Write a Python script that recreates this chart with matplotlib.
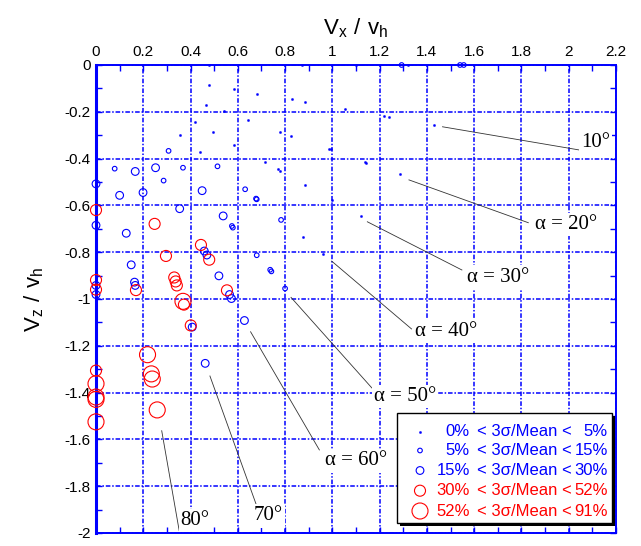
import matplotlib
matplotlib.use("Agg")
import matplotlib.pyplot as plt
from matplotlib.patches import Rectangle
from matplotlib.ticker import MultipleLocator, FuncFormatter

plt.rcParams["font.family"] = ["Liberation Sans", "DejaVu Sans"]
plt.rcParams["axes.unicode_minus"] = False

# ---- measured velocity ratios, grouped by 3-sigma/mean class ----
# class 0: 0% - 5%
dot_x = [0.476, 0.582, 0.683, 0.465, 0.542, 0.645, 0.417, 0.493, 0.356, 0.583,
         0.441, 0.713, 0.831, 0.883, 1.052, 1.220, 1.239, 1.430, 0.780, 0.827,
         0.985, 0.996, 0.769, 0.780, 1.137, 1.144, 1.285, 0.886, 0.997, 1.121,
         0.875, 0.959, 0.480, 0.870, 1.100, 1.320]
dot_y = [-0.084, -0.103, -0.122, -0.171, -0.198, -0.237, -0.242, -0.286, -0.300, -0.340,
         -0.373, -0.415, -0.147, -0.157, -0.186, -0.217, -0.221, -0.255, -0.285, -0.303,
         -0.358, -0.361, -0.445, -0.452, -0.416, -0.418, -0.467, -0.513, -0.578, -0.647,
         -0.736, -0.808, 0.0, 0.0, 0.0, 0.0]

# class 1: 5% - 15%
small_x = [0.079, 0.307, 0.368, 0.286, 0.514, 0.631, 0.677, 0.680, 0.575, 0.579,
           0.783, 0.680, 0.737, 0.742, 0.800, 1.293, 1.540, 1.556]
small_y = [-0.443, -0.367, -0.439, -0.494, -0.433, -0.531, -0.571, -0.574, -0.688, -0.695,
           -0.662, -0.813, -0.875, -0.882, -0.955, 0.0, 0.0, 0.0]

# class 2: 15% - 30%
mid_x = [0.0, 0.166, 0.252, 0.100, 0.199, 0.449, 0.354, 0.0, 0.128, 0.538,
         0.458, 0.469, 0.149, 0.163, 0.166, 0.520, 0.565, 0.573, 0.0, 0.0,
         0.407, 0.628, 0.462]
mid_y = [-0.508, -0.455, -0.439, -0.557, -0.545, -0.537, -0.614, -0.685, -0.719, -0.645,
         -0.795, -0.812, -0.854, -0.928, -0.942, -0.901, -0.981, -0.998, -0.942, -0.981,
         -1.120, -1.092, -1.275]

# class 3: 30% - 52%
red_mid_x = [0.0, 0.248, 0.444, 0.479, 0.296, 0.331, 0.337, 0.342, 0.169, 0.554,
             0.0, 0.0, 0.372, 0.401, 0.0]
red_mid_y = [-0.620, -0.679, -0.769, -0.832, -0.816, -0.908, -0.925, -0.942, -0.962, -0.963,
             -0.919, -0.960, -1.024, -1.113, -1.306]

# class 4: 52% - 91%
red_big_x = [0.368, 0.218, 0.234, 0.238, 0.259, 0.0, 0.0, 0.0, 0.0]
red_big_y = [-1.010, -1.238, -1.320, -1.342, -1.474, -1.362, -1.419, -1.429, -1.525]

class_low = ["0%", "5%", "15%", "30%", "52%"]
class_high = ["5%", "15%", "30%", "52%", "91%"]

# trajectory angle labels
angle_labels = ["10°", "α = 20°", "α = 30°", "α = 40°", "α = 50°", "α = 60°", "70°", "80°"]

# ---- figure ----
W, H = 641, 546
fig = plt.figure(figsize=(W / 100, H / 100), dpi=100)
ax_l, ax_r, ax_t, ax_b = 96, 616, 65, 533
ax = fig.add_axes([ax_l / W, (H - ax_b) / H, (ax_r - ax_l) / W, (ax_b - ax_t) / H])

ax.set_xlim(0, 2.2)
ax.set_ylim(-2, 0)

blue = "#0000ff"
red = "#ff0000"

styles = [
    dict(s=2.5, marker="o", facecolors=blue, edgecolors=blue, linewidths=0.3),
    dict(s=11, marker="o", facecolors="none", edgecolors=blue, linewidths=0.8),
    dict(s=31, marker="o", facecolors="none", edgecolors=blue, linewidths=0.8),
    dict(s=63, marker="o", facecolors="none", edgecolors=red, linewidths=0.8),
    dict(s=133, marker="o", facecolors="none", edgecolors=red, linewidths=0.8),
]
series = [(dot_x, dot_y), (small_x, small_y), (mid_x, mid_y),
          (red_mid_x, red_mid_y), (red_big_x, red_big_y)]
for (xs, ys), st in zip(series, styles):
    ax.scatter(xs, ys, zorder=3, clip_on=False, **st)

# grid and axes styling
ax.set_axisbelow(True)
ax.xaxis.set_major_locator(MultipleLocator(0.2))
ax.xaxis.set_minor_locator(MultipleLocator(0.1))
ax.yaxis.set_major_locator(MultipleLocator(0.2))
ax.yaxis.set_minor_locator(MultipleLocator(0.1))
fmt = FuncFormatter(lambda v, _: "%g" % round(v, 2))
ax.xaxis.set_major_formatter(fmt)
ax.yaxis.set_major_formatter(fmt)
ax.grid(which="major", color=blue, linestyle=(0, (3, 1.2, 1, 1.2)), linewidth=1.1)

ax.tick_params(which="both", direction="in", top=True, bottom=True, left=True, right=True,
               labeltop=True, labelbottom=False, labelleft=True, labelright=False,
               color=blue, labelsize=11, labelcolor="black")
ax.tick_params(which="major", length=4, width=1.0, pad=4)
ax.tick_params(which="minor", length=4, width=1.0)

for side, sp in ax.spines.items():
    sp.set_color(blue)
    sp.set_linewidth(2.2 if side == "left" else 1.4)

ax.xaxis.set_label_position("top")
ax.set_xlabel(r"$\mathregular{V_x\ /\ v_h}$", fontsize=16, labelpad=8)
ax.set_ylabel(r"$\mathregular{V_z\ /\ v_h}$", fontsize=16, labelpad=13)

# angle leader lines and labels
lead_x0 = [1.466, 1.324, 1.148, 0.997, 0.825, 0.654, 0.482, 0.278]
lead_y0 = [-0.264, -0.491, -0.670, -0.838, -0.993, -1.140, -1.329, -1.563]
lead_x1 = [2.114, 1.829, 1.548, 1.335, 1.167, 0.945, 0.677, 0.352]
lead_y1 = [-0.375, -0.674, -0.876, -1.128, -1.380, -1.645, -1.876, -1.990]
text_x = [2.052, 1.857, 1.569, 1.349, 1.176, 0.969, 0.668, 0.358]
text_y = [-0.330, -0.680, -0.906, -1.137, -1.415, -1.692, -1.927, -1.945]
for i, lab in enumerate(angle_labels):
    ax.plot([lead_x0[i], lead_x1[i]], [lead_y0[i], lead_y1[i]],
            color="#333333", linewidth=0.6, zorder=2)
    ax.text(text_x[i], text_y[i], lab, family=["Liberation Serif", "DejaVu Serif"],
            fontsize=15, ha="left", va="center", zorder=4,
            bbox=dict(facecolor="white", edgecolor="none", pad=1.5))

# legend box drawn in axes fraction
def fx(px):
    return (px - ax_l) / (ax_r - ax_l)

def fy(py):
    return (ax_b - py) / (ax_b - ax_t)

bx0, bx1, by0, by1 = fx(397), fx(612), fy(523), fy(413)
sh_dx, sh_dy = 3 / (ax_r - ax_l), 3 / (ax_b - ax_t)
ax.add_patch(Rectangle((bx0 + sh_dx, by0 - sh_dy), bx1 - bx0, by1 - by0,
                       transform=ax.transAxes, facecolor="black", edgecolor="none",
                       zorder=5, clip_on=False))
ax.add_patch(Rectangle((bx0, by0), bx1 - bx0, by1 - by0, transform=ax.transAxes,
                       facecolor="white", edgecolor="black", linewidth=1.0,
                       zorder=6, clip_on=False))
row_py = [431.7, 450.5, 470.5, 490.7, 511.0]
text_colors = [blue, blue, blue, red, red]
for i in range(5):
    yy = fy(row_py[i])
    ax.scatter([fx(420)], [yy], transform=ax.transAxes, zorder=7, clip_on=False, **styles[i])
    kw = dict(transform=ax.transAxes, fontsize=12, color=text_colors[i], va="center", zorder=7)
    ax.text(fx(470), yy, class_low[i], ha="right", **kw)
    ax.text(fx(477), yy, "< 3σ/Mean <", ha="left", **kw)
    ax.text(fx(608), yy, class_high[i], ha="right", **kw)

fig.savefig("out.png", dpi=100)
